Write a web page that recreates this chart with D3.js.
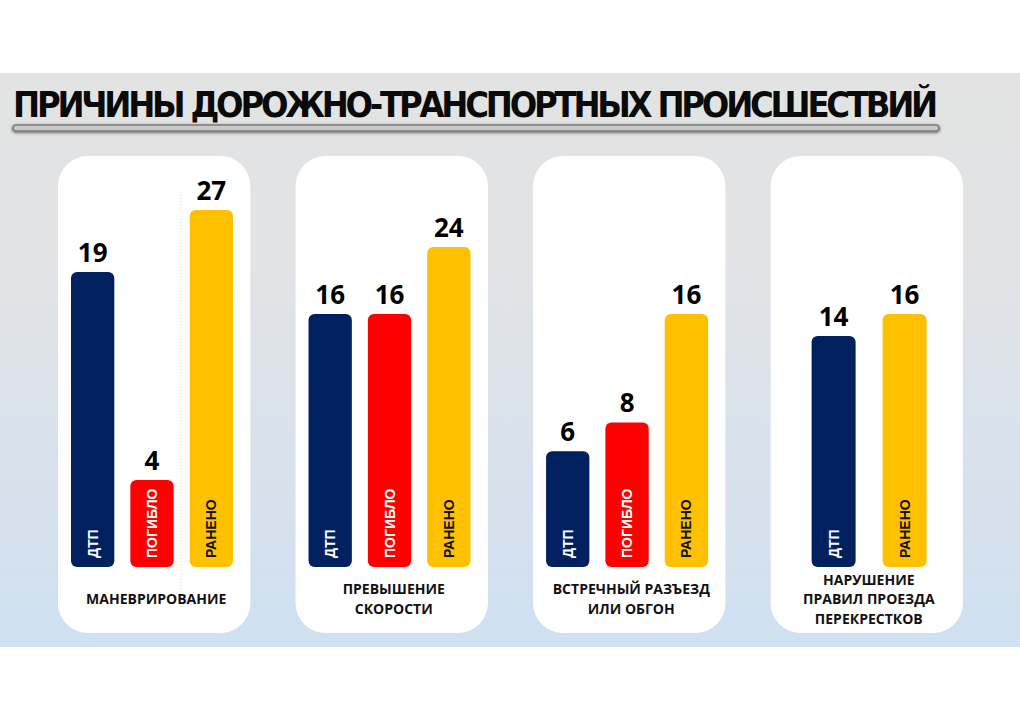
<!DOCTYPE html>
<html lang="ru">
<head>
<meta charset="UTF-8">
<title>Причины ДТП</title>
<script src="https://cdnjs.cloudflare.com/ajax/libs/d3/7.8.5/d3.min.js"></script>
<style>
  body { margin: 0; background: #fff; }
  svg { display: block; }
</style>
</head>
<body>
<script>
// --- data ---
var causes = ["МАНЕВРИРОВАНИЕ", "ПРЕВЫШЕНИЕ СКОРОСТИ", "ВСТРЕЧНЫЙ РАЗЪЕЗД ИЛИ ОБГОН", "НАРУШЕНИЕ ПРАВИЛ ПРОЕЗДА ПЕРЕКРЕСТКОВ"];
var causeLines = [
  ["МАНЕВРИРОВАНИЕ"],
  ["ПРЕВЫШЕНИЕ", "СКОРОСТИ"],
  ["ВСТРЕЧНЫЙ РАЗЪЕЗД", "ИЛИ ОБГОН"],
  ["НАРУШЕНИЕ", "ПРАВИЛ ПРОЕЗДА", "ПЕРЕКРЕСТКОВ"]
];
var metrics = ["ДТП", "ПОГИБЛО", "РАНЕНО"];
var accidents = [19, 16, 6, 14];
var killed = [4, 16, 8, null];
var injured = [27, 24, 16, 16];
var title = "ПРИЧИНЫ ДОРОЖНО-ТРАНСПОРТНЫХ ПРОИСШЕСТВИЙ";

var W = 1020, H = 721;
var colors = { "ДТП": "#002060", "ПОГИБЛО": "#ff0000", "РАНЕНО": "#ffc000" };
var labelColors = { "ДТП": "#ffffff", "ПОГИБЛО": "#ffffff", "РАНЕНО": "#111111" };

var svg = d3.select("body").append("svg").attr("width", W).attr("height", H);
var defs = svg.append("defs");

var bg = defs.append("linearGradient").attr("id", "bg").attr("x1", 0).attr("y1", 0).attr("x2", 0).attr("y2", 1);
bg.append("stop").attr("offset", "0%").attr("stop-color", "#e3e3e3");
bg.append("stop").attr("offset", "35%").attr("stop-color", "#e1e3e6");
bg.append("stop").attr("offset", "100%").attr("stop-color", "#cfe0f1");

var sh = defs.append("filter").attr("id", "sh").attr("x", "-5%").attr("y", "-100%").attr("width", "110%").attr("height", "300%");
sh.append("feGaussianBlur").attr("in", "SourceAlpha").attr("stdDeviation", 1.5).attr("result", "b");
sh.append("feOffset").attr("in", "b").attr("dy", 1).attr("result", "o");
sh.append("feComponentTransfer").attr("in", "o").attr("result", "o2")
  .append("feFuncA").attr("type", "linear").attr("slope", 0.6);
var m = sh.append("feMerge");
m.append("feMergeNode").attr("in", "o2");
m.append("feMergeNode").attr("in", "SourceGraphic");

// background band
svg.append("rect").attr("x", 0).attr("y", 73).attr("width", W).attr("height", 574).attr("fill", "url(#bg)");

// title + underline
var titleText = svg.append("text")
  .attr("x", 13).attr("y", 117)
  .style("font-family", "'DejaVu Sans Condensed', 'DejaVu Sans', sans-serif")
  .style("font-weight", "bold").style("font-size", "36px")
  .attr("fill", "#0a0a0a")
  .text(title);
// fit the title to the width of the underline with letter spacing
var tLen = titleText.node().getComputedTextLength();
titleText.style("letter-spacing", ((922 - tLen) / title.length) + "px");

svg.append("rect")
  .attr("x", 13).attr("y", 125).attr("width", 926).attr("height", 6).attr("rx", 3)
  .attr("fill", "#c9c9c9").attr("stroke", "#7d7d7d").attr("stroke-width", 1.6)
  .attr("filter", "url(#sh)");

// scales
var xCard = d3.scaleBand().domain(causes).range([58, 963]).paddingInner(0.19).paddingOuter(0);
// value axis is compressed toward the top in the original slide
var y = d3.scaleLinear().domain([0, 4, 14, 16, 19, 24, 27]).range([567, 480, 336, 314, 272, 247, 210]);
var base = y(0);

causes.forEach(function(c, i) {
  var x0 = xCard(c);
  var bw = xCard.bandwidth();
  var g = svg.append("g").attr("class", "card");

  g.append("rect")
    .attr("x", x0).attr("y", 156).attr("width", bw).attr("height", 477)
    .attr("rx", 30).attr("fill", "#ffffff");

  var rows = [
    { k: "ДТП", v: accidents[i] },
    { k: "ПОГИБЛО", v: killed[i] },
    { k: "РАНЕНО", v: injured[i] }
  ].filter(function(d) { return d.v != null; });

  var xb = d3.scaleBand().domain(rows.map(function(d) { return d.k; }));
  if (rows.length === 3) xb.range([x0 + 13, x0 + 175]).paddingInner(0.27);
  else xb.range([x0 + 41, x0 + 156]).paddingInner(0.38);

  if (i === 0) {
    g.append("line")
      .attr("x1", x0 + 123).attr("x2", x0 + 123).attr("y1", 192).attr("y2", 607)
      .attr("stroke", "#d4d4d4").attr("stroke-width", 1).attr("stroke-dasharray", "1,2");
  }

  var bars = g.selectAll("g.bar").data(rows).enter().append("g").attr("class", "bar");

  bars.append("rect")
    .attr("x", function(d) { return xb(d.k); })
    .attr("y", function(d) { return y(d.v); })
    .attr("width", xb.bandwidth())
    .attr("height", function(d) { return base - y(d.v); })
    .attr("rx", 6)
    .attr("fill", function(d) { return colors[d.k]; });

  bars.append("text")
    .attr("x", function(d) { return xb(d.k) + xb.bandwidth() / 2; })
    .attr("y", function(d) { return y(d.v) - 10; })
    .attr("text-anchor", "middle")
    .style("font-family", "'Open Sans', sans-serif").style("font-weight", 700).style("font-size", "26px")
    .attr("fill", "#000")
    .text(function(d) { return d.v; });

  bars.append("text")
    .attr("transform", function(d) {
      return "translate(" + (xb(d.k) + xb.bandwidth() / 2 + 5) + "," + (base - 9) + ") rotate(-90)";
    })
    .style("font-family", "'Liberation Sans', Arial, sans-serif").style("font-weight", "bold").style("font-size", "14px")
    .attr("fill", function(d) { return labelColors[d.k]; })
    .text(function(d) { return d.k; });

  var lines = causeLines[i];
  var lh = 19.5;
  var y0 = 599 - (lines.length - 1) * lh / 2 + 5;
  g.append("text")
    .attr("text-anchor", "middle")
    .style("font-family", "'Open Sans', sans-serif").style("font-weight", 700).style("font-size", "14px")
    .attr("fill", "#111")
    .selectAll("tspan").data(lines).enter().append("tspan")
    .attr("x", x0 + bw / 2 + 2)
    .attr("y", function(d, j) { return y0 + j * lh; })
    .text(function(d) { return d; });
});
</script>
</body>
</html>
